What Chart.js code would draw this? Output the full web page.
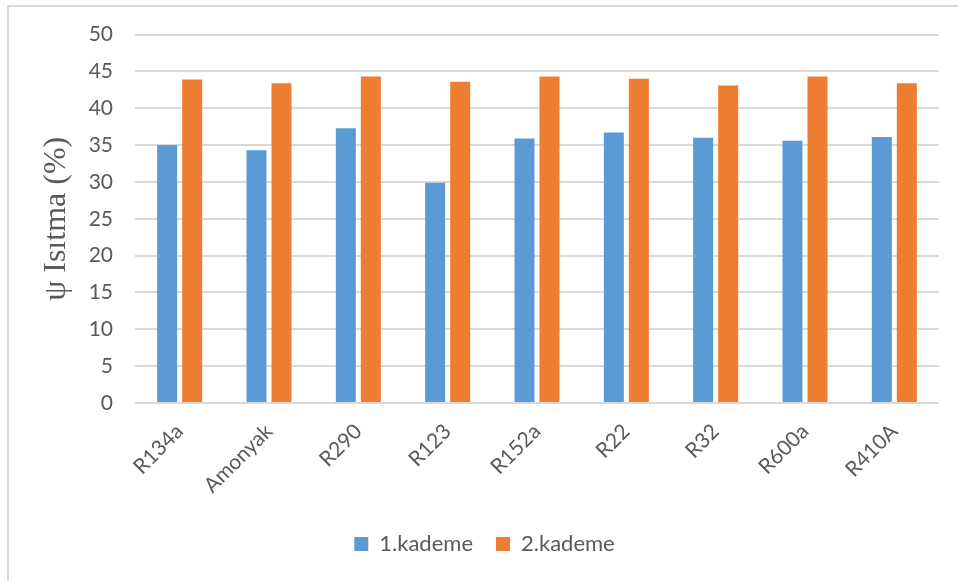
<!DOCTYPE html>
<html>
<head>
<meta charset="utf-8">
<script src="https://cdn.jsdelivr.net/npm/chart.js@4"></script>
<style>
  html, body { margin: 0; padding: 0; background: #ffffff; }
  #wrap { position: relative; width: 958px; height: 581px; overflow: hidden; }
  #frame { position: absolute; left: 7px; top: 5px; width: 960px; height: 600px;
           border: 2px solid #d9d9d9; box-sizing: border-box; }
  canvas { position: absolute; left: 0; top: 0; }
</style>
</head>
<body>
<div id="wrap">
  <div id="frame"></div>
  <canvas id="c" width="958" height="581"></canvas>
</div>
<script>
// Refrigerants compared
const categories = ['R134a', 'Amonyak', 'R290', 'R123', 'R152a', 'R22', 'R32', 'R600a', 'R410A'];
// Heating ratio ψ (%) per stage
const stage1 = [35.0, 34.3, 37.3, 29.9, 35.9, 36.7, 36.0, 35.6, 36.1];
const stage2 = [43.9, 43.4, 44.3, 43.6, 44.3, 44.0, 43.1, 44.3, 43.4];
const seriesNames = ['1.kademe', '2.kademe'];
const yTicks = [0, 5, 10, 15, 20, 25, 30, 35, 40, 45, 50];

const labelFont = { family: 'Lato', size: 21 };
const legendFont = { family: 'Lato', size: 22 };
const textColor = '#595959';

new Chart(document.getElementById('c'), {
  type: 'bar',
  data: {
    labels: categories,
    datasets: [
      { label: seriesNames[0], data: stage1, backgroundColor: '#5b9bd5',
        categoryPercentage: 0.56, barPercentage: 0.8 },
      { label: seriesNames[1], data: stage2, backgroundColor: '#ed7d31',
        categoryPercentage: 0.56, barPercentage: 0.8 }
    ]
  },
  options: {
    responsive: false,
    animation: false,
    layout: { padding: { top: 26.5, right: 19, left: 30, bottom: 16 } },
    plugins: {
      tooltip: { enabled: false },
      legend: {
        position: 'bottom',
        labels: {
          color: textColor, font: legendFont,
          boxWidth: 14, boxHeight: 14, padding: 23
        }
      }
    },
    scales: {
      x: {
        grid: { display: false },
        border: { display: false },
        ticks: {
          color: textColor, font: labelFont,
          minRotation: 45, maxRotation: 45, padding: 8
        },
        afterFit: (scale) => { scale.height = 107; }
      },
      y: {
        min: 0, max: 50,
        afterBuildTicks: (scale) => { scale.ticks = yTicks.map(v => ({ value: v })); },
        grid: { color: '#d9d9d9', lineWidth: 2, drawTicks: false },
        border: { display: false },
        ticks: { color: textColor, font: labelFont, padding: 22 },
        title: {
          display: true,
          text: 'ψ Isıtma (%)',
          color: textColor,
          font: { family: 'Liberation Serif', size: 32 },
          padding: { top: 7, bottom: 0 }
        },
        afterFit: (scale) => { scale.width = 105; }
      }
    }
  }
});
</script>
</body>
</html>
